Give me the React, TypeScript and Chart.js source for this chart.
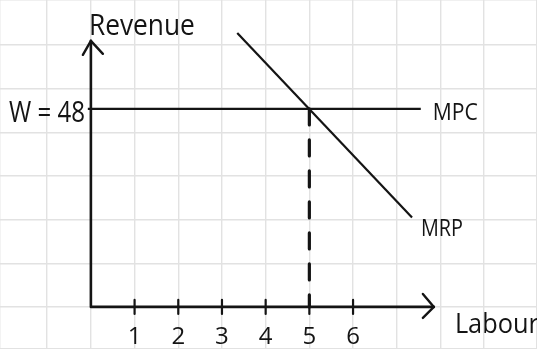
import { useEffect, useRef } from "react";
import { Chart, registerables } from "chart.js";

Chart.register(...registerables);

const WIDTH = 537;
const HEIGHT = 349;
const INK = "#141414";
const PAPER_GRID = "#e2e2e2";
const FONT = "'Open Sans', Lato, sans-serif";
const WEIGHT = 500;

// Labour market: wage (MPC) and marginal revenue product of labour
const wage = 48;
const wageLabel = "W = 48";
const mpcLabour = [-0.07, 7.55];
const mrpLabour = [3.35, 7.35];
const mrpRevenue = [66.4, 21.7];
const equilibriumLabour = 5;
const labourTicks = [1, 2, 3, 4, 5, 6];
const axisTopRevenue = 64.5;
const axisEndLabour = 7.85;

// Scale windows (labour units, revenue units, graph-paper squares)
const labourRange = [-2.08, 10.21];
const revenueRange = [-10.2, 74.4];
const paperRange = [-0.96, 7.025];

const sketchPlugin = {
  id: "sketch",
  afterDatasetsDraw(chart: any) {
    const { ctx } = chart;
    const xs = chart.scales.x;
    const ys = chart.scales.y;
    const x0 = xs.getPixelForValue(0);
    const y0 = ys.getPixelForValue(0);
    const yTop = ys.getPixelForValue(axisTopRevenue);
    const xEnd = xs.getPixelForValue(axisEndLabour);

    ctx.save();
    ctx.strokeStyle = INK;
    ctx.fillStyle = INK;
    ctx.lineCap = "round";
    ctx.lineJoin = "round";

    // axes
    ctx.lineWidth = 2.6;
    ctx.beginPath();
    ctx.moveTo(x0, yTop);
    ctx.lineTo(x0, y0);
    ctx.lineTo(xEnd, y0);
    ctx.stroke();

    // arrow heads
    ctx.lineWidth = 2.4;
    ctx.beginPath();
    ctx.moveTo(x0 - 8, yTop + 14);
    ctx.lineTo(x0, yTop);
    ctx.lineTo(x0 + 12, yTop + 13);
    ctx.stroke();
    ctx.beginPath();
    ctx.moveTo(xEnd - 11, y0 - 13);
    ctx.lineTo(xEnd, y0);
    ctx.lineTo(xEnd - 11, y0 + 11);
    ctx.stroke();

    // labour ticks and numbers
    ctx.lineWidth = 2.2;
    ctx.font = `${WEIGHT} 24px ${FONT}`;
    ctx.textAlign = "center";
    ctx.textBaseline = "alphabetic";
    labourTicks.forEach((t) => {
      const px = xs.getPixelForValue(t);
      ctx.beginPath();
      ctx.moveTo(px, y0 - 7);
      ctx.lineTo(px, y0 + 7);
      ctx.stroke();
      ctx.fillText(String(t), px, y0 + 37);
    });

    // labels
    ctx.textAlign = "left";
    ctx.font = `${WEIGHT} 30px ${FONT}`;
    ctx.fillText("Revenue", x0 - 2, 35, 106);
    ctx.font = `${WEIGHT} 29px ${FONT}`;
    ctx.fillText(wageLabel, 9, ys.getPixelForValue(wage) + 13, 76);
    ctx.font = `${WEIGHT} 24px ${FONT}`;
    ctx.fillText("MPC", xs.getPixelForValue(mpcLabour[1]) + 12, ys.getPixelForValue(wage) + 11, 45);
    ctx.fillText("MRP", xs.getPixelForValue(mrpLabour[1]) + 9, ys.getPixelForValue(mrpRevenue[1]) + 19, 42);
    ctx.font = `${WEIGHT} 28px ${FONT}`;
    ctx.fillText("Labour", xEnd + 21, y0 + 26, 84);
    ctx.restore();
  },
};

export default function App() {
  const ref = useRef<HTMLCanvasElement | null>(null);

  useEffect(() => {
    if (!ref.current) return;
    const chart = new Chart(ref.current, {
      type: "scatter",
      data: {
        datasets: [
          {
            label: "MPC",
            data: mpcLabour.map((l) => ({ x: l, y: wage })),
            showLine: true,
            borderColor: INK,
            borderWidth: 2.4,
            pointRadius: 0,
            yAxisID: "y",
          },
          {
            label: "MRP",
            data: mrpLabour.map((l, i) => ({ x: l, y: mrpRevenue[i] })),
            showLine: true,
            borderColor: INK,
            borderWidth: 2.2,
            pointRadius: 0,
            yAxisID: "y",
          },
          {
            label: "Equilibrium",
            data: [
              { x: equilibriumLabour, y: wage },
              { x: equilibriumLabour, y: 0 },
            ],
            showLine: true,
            borderColor: INK,
            borderWidth: 3.2,
            borderDash: [16, 15],
            borderCapStyle: "round",
            pointRadius: 0,
            yAxisID: "y",
          },
        ],
      },
      options: {
        animation: false,
        responsive: false,
        maintainAspectRatio: false,
        layout: { padding: 0 },
        plugins: {
          legend: { display: false },
          tooltip: { enabled: false },
        },
        scales: {
          x: {
            type: "linear",
            min: labourRange[0],
            max: labourRange[1],
            ticks: { display: false, stepSize: 1 },
            grid: { color: PAPER_GRID, lineWidth: 1.4, drawTicks: false },
            border: { display: false },
          },
          y: {
            type: "linear",
            min: revenueRange[0],
            max: revenueRange[1],
            ticks: { display: false },
            grid: { display: false, drawTicks: false },
            border: { display: false },
          },
          paper: {
            type: "linear",
            position: "left",
            min: paperRange[0],
            max: paperRange[1],
            ticks: { display: false, stepSize: 1 },
            grid: { color: PAPER_GRID, lineWidth: 1.4, drawTicks: false },
            border: { display: false },
          },
        },
      },
      plugins: [sketchPlugin],
    });
    return () => chart.destroy();
  }, []);

  return (
    <div
      style={{
        position: "fixed",
        left: 0,
        top: 0,
        width: WIDTH,
        height: HEIGHT,
        background: "#ffffff",
      }}
    >
      <canvas ref={ref} width={WIDTH} height={HEIGHT} />
    </div>
  );
}
